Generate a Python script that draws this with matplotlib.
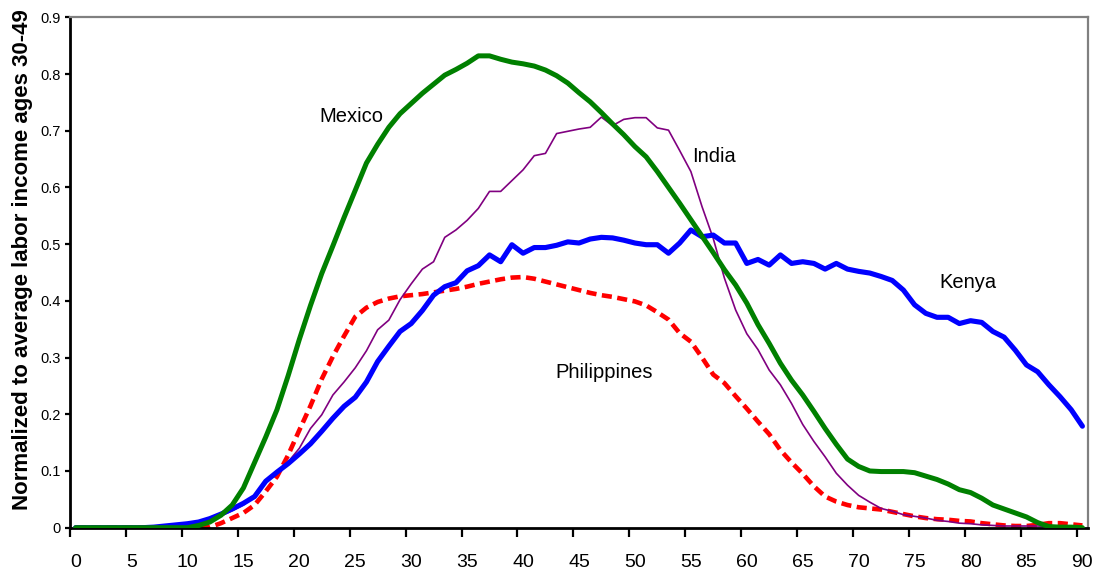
import numpy as np
import matplotlib
matplotlib.use("Agg")
import matplotlib.pyplot as plt

plt.rcParams['font.family'] = ['Liberation Sans', 'DejaVu Sans']

ages = list(range(91))

mexico = [0, 0, 0, 0, 0, 0, 0, 0, 0, 0, 0,
          0.004, 0.01, 0.022, 0.04, 0.07, 0.115, 0.16, 0.208, 0.268, 0.332,
          0.392, 0.448, 0.497, 0.547, 0.595, 0.643, 0.676, 0.706, 0.73, 0.748,
          0.766, 0.782, 0.798, 0.808, 0.819, 0.832, 0.832, 0.826, 0.821, 0.818,
          0.814, 0.807, 0.797, 0.784, 0.767, 0.751, 0.732, 0.712, 0.693, 0.672,
          0.654, 0.628, 0.6, 0.572, 0.543, 0.514, 0.485, 0.455, 0.428, 0.396,
          0.358, 0.325, 0.29, 0.26, 0.234, 0.205, 0.175, 0.147, 0.121, 0.108,
          0.1, 0.099, 0.099, 0.099, 0.097, 0.091, 0.085, 0.077, 0.067, 0.062,
          0.052, 0.04, 0.033, 0.026, 0.019, 0.009, 0.002, 0.001, 0.001, 0.0]

kenya = [0, 0, 0, 0, 0, 0, 0,
         0.001, 0.003, 0.005, 0.007, 0.01, 0.016, 0.024, 0.033, 0.043, 0.055,
         0.082, 0.098, 0.113, 0.13, 0.148, 0.17, 0.193, 0.214, 0.23, 0.257,
         0.293, 0.32, 0.346, 0.36, 0.383, 0.41, 0.425, 0.432, 0.453, 0.462,
         0.481, 0.469, 0.499, 0.484, 0.494, 0.494, 0.498, 0.504, 0.502, 0.509,
         0.512, 0.511, 0.507, 0.502, 0.499, 0.499, 0.484, 0.502, 0.525, 0.513,
         0.516, 0.502, 0.502, 0.466, 0.473, 0.463, 0.481, 0.466, 0.469, 0.466,
         0.456, 0.466, 0.456, 0.452, 0.449, 0.443, 0.436, 0.419, 0.393, 0.378,
         0.371, 0.371, 0.36, 0.365, 0.362, 0.346, 0.336, 0.313, 0.287, 0.275,
         0.252, 0.231, 0.208, 0.179]

india = [0, 0, 0, 0, 0, 0, 0, 0,
         0.002, 0.004, 0.006, 0.009, 0.014, 0.021, 0.03, 0.04, 0.055,
         0.082, 0.098, 0.116, 0.14, 0.175, 0.199, 0.234, 0.257, 0.282, 0.312,
         0.349, 0.366, 0.402, 0.43, 0.456, 0.469, 0.512, 0.525, 0.542, 0.563,
         0.593, 0.593, 0.612, 0.631, 0.656, 0.66, 0.695, 0.699, 0.703, 0.706,
         0.724, 0.709, 0.72, 0.723, 0.723, 0.705, 0.701, 0.665, 0.628, 0.566,
         0.51, 0.44, 0.384, 0.342, 0.314, 0.278, 0.252, 0.219, 0.182, 0.152,
         0.125, 0.096, 0.075, 0.057, 0.045, 0.034, 0.029, 0.023, 0.02, 0.017,
         0.013, 0.011, 0.008, 0.007, 0.005, 0.004, 0.003, 0.003, 0.003, 0.003,
         0.002, 0.001, 0.001, 0.001]

philippines = [0, 0, 0, 0, 0, 0, 0, 0, 0, 0, 0, 0,
               0.001, 0.008, 0.017, 0.026, 0.04, 0.064, 0.09, 0.128, 0.172,
               0.215, 0.262, 0.302, 0.338, 0.372, 0.388, 0.398, 0.404, 0.408, 0.41,
               0.412, 0.415, 0.418, 0.421, 0.425, 0.43, 0.434, 0.438, 0.441, 0.442,
               0.439, 0.434, 0.429, 0.424, 0.419, 0.414, 0.41, 0.407, 0.403, 0.399,
               0.392, 0.38, 0.367, 0.343, 0.328, 0.3, 0.27, 0.255, 0.232, 0.21,
               0.187, 0.165, 0.137, 0.115, 0.095, 0.073, 0.055, 0.046, 0.04, 0.036,
               0.034, 0.032, 0.028, 0.024, 0.02, 0.017, 0.015, 0.014, 0.012, 0.011,
               0.008, 0.006, 0.004, 0.003, 0.003, 0.005, 0.008, 0.008, 0.006, 0.004]

xtick_labels = [str(v) for v in range(0, 91, 5)]
ytick_values = [0, 0.1, 0.2, 0.3, 0.4, 0.5, 0.6, 0.7, 0.8, 0.9]
ytick_labels = ["0", "0.1", "0.2", "0.3", "0.4", "0.5", "0.6", "0.7", "0.8", "0.9"]
ylabel = "Normalized to average labor income ages 30-49"

fig = plt.figure(figsize=(10.96, 5.72), dpi=100)
ax = fig.add_axes([70 / 1096, 1 - 527.7 / 572, 1018 / 1096, 510.4 / 572])

ax.plot(ages, philippines, color='#FF0000', lw=3.3, linestyle=(0, (2.2, 1.2)),
        dash_capstyle='butt', zorder=2)
ax.plot(ages, india, color='#800080', lw=1.2, zorder=3)
ax.plot(ages, kenya, color='#0000FF', lw=3.7, solid_joinstyle='round',
        solid_capstyle='round', zorder=4)
ax.plot(ages, mexico, color='#008000', lw=3.6, solid_joinstyle='round',
        solid_capstyle='round', zorder=5)

ax.set_xlim(-0.5, 90.5)
ax.set_ylim(0, 0.9)

# category-style axis: ticks between categories, labels on categories
ax.set_xticks(np.arange(-0.5, 90, 5))
ax.set_xticklabels([])
ax.set_xticks(list(range(0, 91, 5)), minor=True)
ax.set_xticklabels(xtick_labels, minor=True, fontsize=14)
ax.tick_params(axis='x', which='major', length=6.5, width=1.6, direction='out', color='black')
ax.tick_params(axis='x', which='minor', length=0, pad=19)

ax.set_yticks(ytick_values)
ax.set_yticklabels(ytick_labels, fontsize=10.5)
ax.tick_params(axis='y', length=3.6, width=1.6, direction='out', pad=3, color='black')

for s in ['left', 'bottom']:
    ax.spines[s].set_color('black')
    ax.spines[s].set_linewidth(2.0)
for s in ['top', 'right']:
    ax.spines[s].set_color('#808080')
    ax.spines[s].set_linewidth(1.6)

fig.text(23 / 1096, 1 - 260 / 572, ylabel, rotation=90, ha='center', va='center',
         fontsize=16, fontweight='bold')

ax.text(24.67, 0.715, "Mexico", ha='center', va='baseline', fontsize=14.5)
ax.text(57.1, 0.6455, "India", ha='center', va='baseline', fontsize=14.5)
ax.text(79.8, 0.423, "Kenya", ha='center', va='baseline', fontsize=14.5)
ax.text(47.24, 0.2646, "Philippines", ha='center', va='baseline', fontsize=14.5)

fig.savefig("out.png", dpi=100)
